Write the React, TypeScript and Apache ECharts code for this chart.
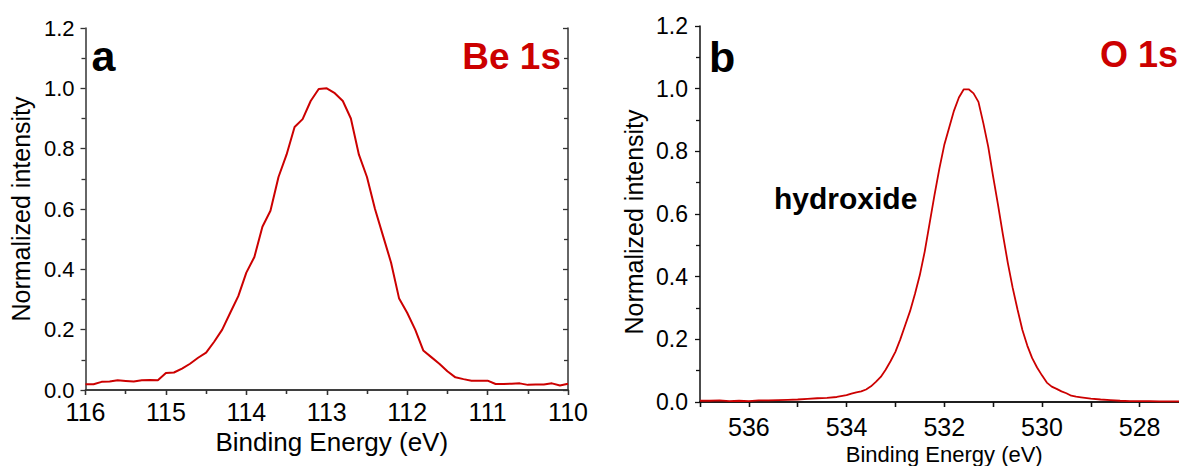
import React, { useEffect, useRef } from "react";
import * as echarts from "echarts";

// Panel a: Be 1s
const beEnergy = [
  116.0, 115.9, 115.8, 115.7, 115.6, 115.5, 115.4, 115.3, 115.2, 115.1,
  115.0, 114.9, 114.8, 114.7, 114.6, 114.5, 114.4, 114.3, 114.2, 114.1,
  114.0, 113.9, 113.8, 113.7, 113.6, 113.5, 113.4, 113.3, 113.2, 113.1,
  113.0, 112.9, 112.8, 112.7, 112.6, 112.5, 112.4, 112.3, 112.2, 112.1,
  112.0, 111.9, 111.8, 111.7, 111.6, 111.5, 111.4, 111.3, 111.2, 111.1,
  111.0, 110.9, 110.8, 110.7, 110.6, 110.5, 110.4, 110.3, 110.2, 110.1,
  110.0,
];
const beIntensity = [
  0.019, 0.019, 0.027, 0.028, 0.032, 0.030, 0.028, 0.032, 0.033, 0.032,
  0.056, 0.058, 0.071, 0.087, 0.107, 0.124, 0.160, 0.200, 0.256, 0.311,
  0.389, 0.441, 0.541, 0.594, 0.706, 0.780, 0.872, 0.898, 0.958, 0.998,
  1.000, 0.984, 0.958, 0.900, 0.780, 0.706, 0.600, 0.511, 0.422, 0.303,
  0.256, 0.200, 0.131, 0.109, 0.087, 0.062, 0.042, 0.036, 0.031, 0.031,
  0.031, 0.020, 0.020, 0.021, 0.022, 0.017, 0.018, 0.018, 0.022, 0.015,
  0.021,
];

// Panel b: O 1s
const oEnergy = [
  537.0, 536.8, 536.6, 536.4, 536.2, 536.0, 535.8, 535.6, 535.4, 535.2,
  535.0, 534.8, 534.6, 534.4, 534.2, 534.0, 533.9, 533.8, 533.7, 533.6,
  533.5, 533.4, 533.3, 533.2, 533.1, 533.0, 532.9, 532.8, 532.7, 532.6,
  532.5, 532.4, 532.3, 532.2, 532.1, 532.0, 531.9, 531.8, 531.7, 531.6,
  531.5, 531.4, 531.3, 531.2, 531.1, 531.0, 530.9, 530.8, 530.7, 530.6,
  530.5, 530.4, 530.3, 530.2, 530.1, 530.0, 529.9, 529.8, 529.7, 529.6,
  529.5, 529.4, 529.3, 529.2, 529.0, 528.8, 528.6, 528.4, 528.2, 528.0,
  527.8, 527.6, 527.4, 527.2, 527.0,
];
const oIntensity = [
  0.004, 0.004, 0.005, 0.003, 0.004, 0.003, 0.005, 0.005, 0.006, 0.007,
  0.008, 0.010, 0.012, 0.013, 0.016, 0.022, 0.027, 0.031, 0.034, 0.040,
  0.050, 0.064, 0.080, 0.103, 0.130, 0.160, 0.200, 0.245, 0.290, 0.345,
  0.405, 0.480, 0.570, 0.660, 0.745, 0.820, 0.875, 0.930, 0.972, 0.998,
  0.998, 0.985, 0.958, 0.890, 0.815, 0.720, 0.630, 0.535, 0.445, 0.365,
  0.295, 0.230, 0.180, 0.140, 0.110, 0.085, 0.062, 0.049, 0.042, 0.034,
  0.028, 0.020, 0.017, 0.015, 0.011, 0.008, 0.006, 0.004, 0.003, 0.003,
  0.003, 0.002, 0.002, 0.002, 0.002,
];

const yTicks = { min: 0, max: 1.2, interval: 0.2 };
const xTitle = "Binding Energy (eV)";
const yTitle = "Normalized intensity";
const labelsA = { panel: "a", peak: "Be 1s" };
const labelsB = { panel: "b", peak: "O 1s", note: "hydroxide" };

const FONT = "'Liberation Sans', Arial, Helvetica, sans-serif";
const RED = "#cc0000";

export default function App() {
  const ref = useRef<HTMLDivElement>(null);

  useEffect(() => {
    if (!ref.current) return;
    const chart = echarts.init(ref.current, null, { renderer: "svg" });

    const axisLineA = { show: true, lineStyle: { color: "#333", width: 1.5 } };
    const axisLineB = { show: true, lineStyle: { color: "#111", width: 1.5 } };
    const yFmt = (v: number) => v.toFixed(1);

    const mkX = (
      grid: number,
      min: number,
      max: number,
      line: any,
      opts: { top?: boolean; minor?: boolean; labelSize: number; labelMargin: number; fmt?: any; name?: string; nameGap?: number; nameSize?: number; namePad?: number[] }
    ): any => ({
      type: "value",
      gridIndex: grid,
      min,
      max,
      interval: 1,
      inverse: true,
      position: opts.top ? "top" : "bottom",
      axisLine: line,
      axisTick: { show: true, inside: !!opts.top, length: 5, lineStyle: { color: line.lineStyle.color, width: 1.3 } },
      minorTick: opts.minor
        ? { show: true, splitNumber: 2, length: 4, lineStyle: { color: line.lineStyle.color, width: 1.3 } }
        : { show: false },
      splitLine: { show: false },
      axisLabel: opts.top
        ? { show: false }
        : {
            show: true,
            margin: opts.labelMargin,
            fontSize: opts.labelSize,
            color: "#000",
            fontFamily: FONT,
            formatter: opts.fmt,
          },
      name: opts.top ? undefined : opts.name,
      nameLocation: "middle",
      nameGap: opts.nameGap,
      nameTextStyle: {
        fontSize: opts.nameSize,
        color: "#000",
        fontFamily: FONT,
        padding: opts.namePad,
      },
    });

    const mkY = (
      grid: number,
      line: any,
      opts: { right?: boolean; labelSize: number; labelMargin: number; name?: string; nameGap?: number; nameSize?: number; namePad?: number[] }
    ): any => ({
      type: "value",
      gridIndex: grid,
      min: yTicks.min,
      max: yTicks.max,
      interval: yTicks.interval,
      position: opts.right ? "right" : "left",
      axisLine: line,
      axisTick: { show: true, inside: !!opts.right, length: 5, lineStyle: { color: line.lineStyle.color, width: 1.3 } },
      minorTick: { show: true, splitNumber: 2, length: 4, lineStyle: { color: line.lineStyle.color, width: 1.3 } },
      splitLine: { show: false },
      axisLabel: opts.right
        ? { show: false }
        : { show: true, margin: opts.labelMargin, fontSize: opts.labelSize, color: "#000", fontFamily: FONT, formatter: yFmt },
      name: opts.right ? undefined : opts.name,
      nameLocation: "middle",
      nameGap: opts.nameGap,
      nameTextStyle: { fontSize: opts.nameSize, color: "#000", fontFamily: FONT, padding: opts.namePad },
    });

    const evenFmt = (v: number) => {
      const r = Math.round(v);
      return r % 2 === 0 ? String(r) : "";
    };

    chart.setOption({
      animation: false,
      textStyle: { fontFamily: FONT },
      grid: [
        { left: 85.5, right: 1179 - 568, top: 28, bottom: 466 - 390, containLabel: false, outerBoundsMode: "none" },
        { left: 700, right: 1179 - 1188.5, top: 26, bottom: 466 - 402, containLabel: false, outerBoundsMode: "none" },
      ],
      xAxis: [
        mkX(0, 110, 116, axisLineA, {
          minor: true,
          labelSize: 25,
          labelMargin: 9,
          name: xTitle,
          nameGap: 35,
          nameSize: 26,
          namePad: [0, 0, 0, 10],
        }),
        mkX(0, 110, 116, axisLineA, { top: true, minor: true, labelSize: 25, labelMargin: 9 }),
        mkX(1, 527, 537, axisLineB, {
          labelSize: 25,
          labelMargin: 12,
          fmt: evenFmt,
          name: xTitle,
          nameGap: 37,
          nameSize: 22,
        }),
        mkX(1, 527, 537, axisLineB, { top: true, labelSize: 25, labelMargin: 12 }),
      ],
      yAxis: [
        mkY(0, axisLineA, { labelSize: 22, labelMargin: 11, name: yTitle, nameGap: 52, nameSize: 25 }),
        mkY(0, axisLineA, { right: true, labelSize: 22, labelMargin: 11 }),
        mkY(1, axisLineB, {
          labelSize: 23,
          labelMargin: 12,
          name: yTitle,
          nameGap: 54,
          nameSize: 25,
          namePad: [0, 16, 0, 0],
        }),
        mkY(1, axisLineB, { right: true, labelSize: 23, labelMargin: 12 }),
      ],
      series: [
        {
          name: labelsA.peak,
          type: "line",
          xAxisIndex: 0,
          yAxisIndex: 0,
          showSymbol: false,
          lineStyle: { color: RED, width: 2 },
          data: beEnergy.map((e, i) => [e, beIntensity[i]]),
        },
        {
          name: labelsB.peak,
          type: "line",
          xAxisIndex: 2,
          yAxisIndex: 2,
          showSymbol: false,
          smooth: false,
          lineStyle: { color: RED, width: 1.8 },
          data: oEnergy.map((e, i) => [e, oIntensity[i]]),
        },
      ],
      graphic: [
        {
          type: "text",
          x: 91.5,
          y: 55.5,
          style: { text: labelsA.panel, font: `bold 43px ${FONT}`, fill: "#000", textAlign: "left", textVerticalAlign: "middle" },
        },
        {
          type: "text",
          x: 561,
          y: 56.5,
          style: { text: labelsA.peak, font: `bold 37px ${FONT}`, fill: RED, textAlign: "right", textVerticalAlign: "middle" },
        },
        {
          type: "text",
          x: 709,
          y: 56.5,
          style: { text: labelsB.panel, font: `bold 43px ${FONT}`, fill: "#000", textAlign: "left", textVerticalAlign: "middle" },
        },
        {
          type: "text",
          x: 1100,
          y: 54.5,
          style: { text: labelsB.peak, font: `bold 36px ${FONT}`, fill: RED, textAlign: "left", textVerticalAlign: "middle" },
        },
        {
          type: "text",
          x: 774,
          y: 198,
          style: { text: labelsB.note, font: `bold 30px ${FONT}`, fill: "#000", textAlign: "left", textVerticalAlign: "middle" },
        },
      ],
    });

    return () => chart.dispose();
  }, []);

  return (
    <div
      ref={ref}
      style={{ position: "fixed", left: 0, top: 0, width: 1179, height: 466, background: "#fff" }}
    />
  );
}
